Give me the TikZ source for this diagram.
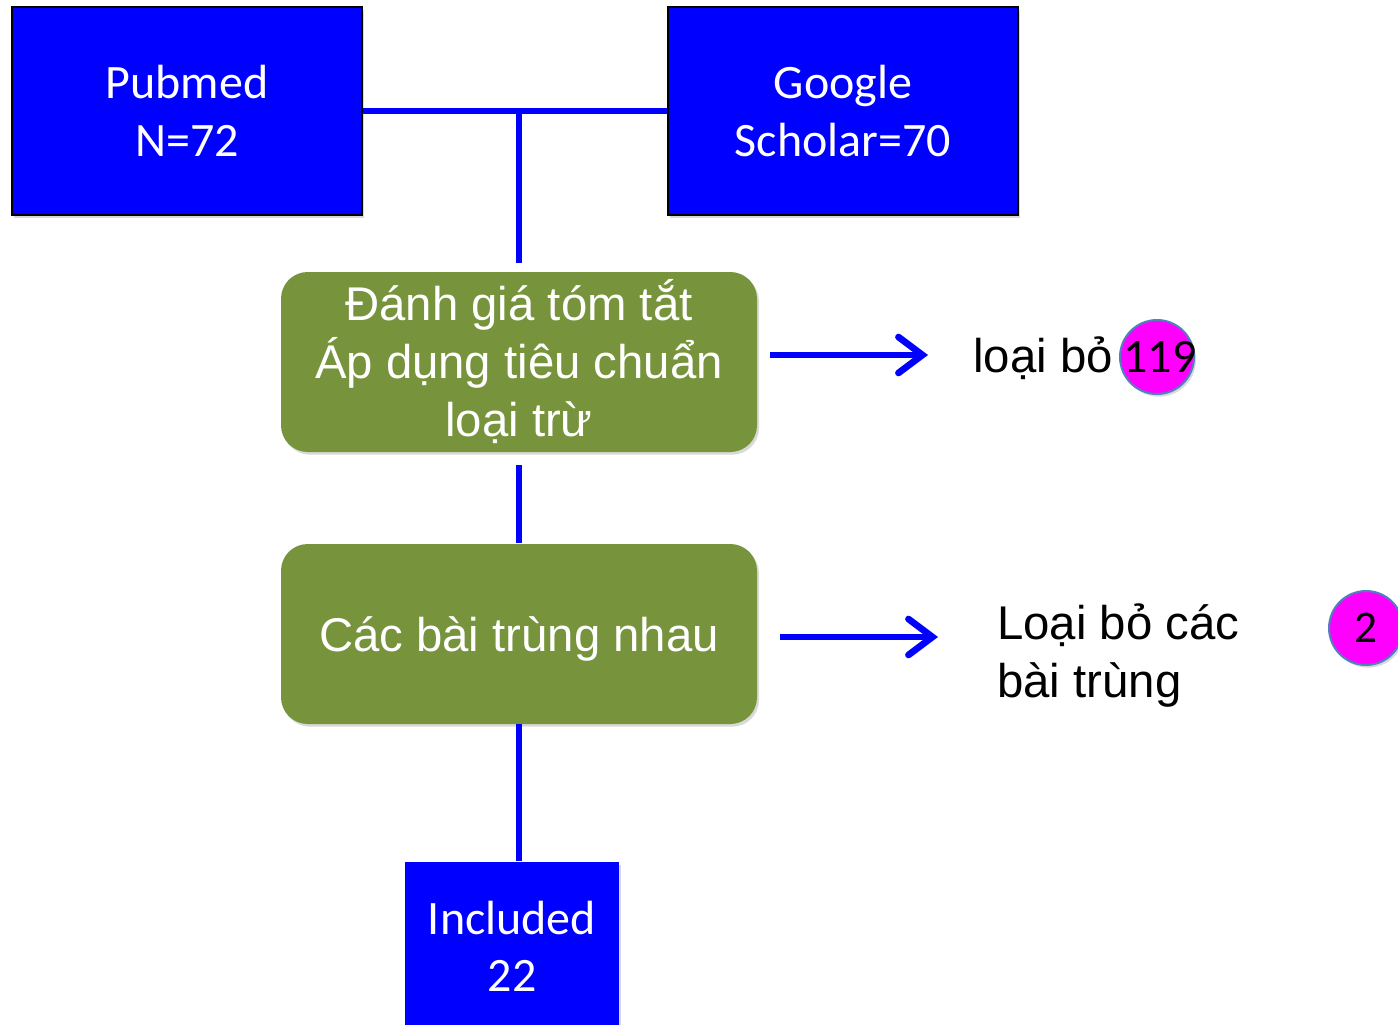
\documentclass[tikz,border=0pt]{standalone}
\usepackage{fontspec}
\setmainfont{Liberation Sans}
\newfontfamily\calibri{Carlito}
\usepackage{tikz}
\usetikzlibrary{arrows.meta,shadows}

\definecolor{boxblue}{HTML}{0000FF}
\definecolor{olive}{HTML}{77933C}
\definecolor{ringblue}{HTML}{4F81BD}
\definecolor{pinkdot}{HTML}{FF00FF}

\tikzset{
  srcbox/.style={rectangle, fill=boxblue, draw=black, line width=1.5pt, text=white,
    minimum width=262.5pt, minimum height=156pt, align=center,
    font=\calibri\fontsize{36}{43}\selectfont,
    drop shadow={opacity=0.3, shadow xshift=1.5pt, shadow yshift=-2pt}},
  stepbox/.style={rectangle, rounded corners=20pt, fill=olive, text=white,
    minimum width=357pt, minimum height=135pt, align=center,
    font=\fontsize{35.5}{43.5}\selectfont,
    drop shadow={opacity=0.3, shadow xshift=1.5pt, shadow yshift=-2pt}},
  countdot/.style={circle, fill=pinkdot, draw=ringblue, line width=1.5pt,
    minimum size=55.5pt, inner sep=0pt,
    drop shadow={opacity=0.3, shadow xshift=1.5pt, shadow yshift=-2pt}},
  link/.style={boxblue, line width=5pt},
  outarrow/.style={boxblue, line width=5pt, -{Straight Barb[length=18pt,width=27pt,line cap=round]}}
}

\begin{document}
\begin{tikzpicture}[x=0.75pt,y=-0.75pt]
\useasboundingbox (0,0) rectangle (1398,1024);

% sources
\node[srcbox] (pubmed) at (187,111) {Pubmed\\N=72};
\node[srcbox] (scholar) at (843,111) {Google\\Scholar=70};

% screening steps
\node[stepbox] (abstract) at (519,362) {Đánh giá tóm tắt\\Áp dụng tiêu chuẩn\\loại trừ};
\node[stepbox, text depth=0pt] (dupes) at (519,634) {Các bài trùng nhau};

% result
\node[srcbox, draw=none, minimum width=160pt, minimum height=126pt] (incl) at (512,946) {Included\\22};

% exclusions
\node[anchor=west, font=\fontsize{35.5}{43.5}\selectfont, inner sep=0pt] (rmone) at (973,358) {loại bỏ};
\node[countdot] (dotone) at (1157,357) {};
\node[font=\calibri\fontsize{36}{40}\selectfont, inner sep=0pt] (numone) at (1160,357) {119};
\node[anchor=west, align=left, font=\fontsize{35.5}{43.5}\selectfont, inner sep=0pt] (rmtwo) at (997,656) {Loại bỏ các\\bài trùng};
\node[countdot, font=\calibri\fontsize{34}{40}\selectfont] (dottwo) at (1366,628) {2};

% connectors
\coordinate (join) at (519,110);
\coordinate (joinend) at (519,263);
\coordinate (gapA) at (519,465);
\coordinate (gapB) at (519,543);
\draw[link] (pubmed.east) -- (scholar.west);
\draw[link] (join) -- (joinend);
\draw[link] (gapA) -- (gapB);
\draw[link] (dupes.south) -- (dupes.south |- incl.north);

\coordinate (arrowA) at (770,355);
\coordinate (arrowB) at (780,637);
\draw[outarrow] (arrowA) -- ++(158,0);
\draw[outarrow] (arrowB) -- ++(158,0);
\end{tikzpicture}
\end{document}
